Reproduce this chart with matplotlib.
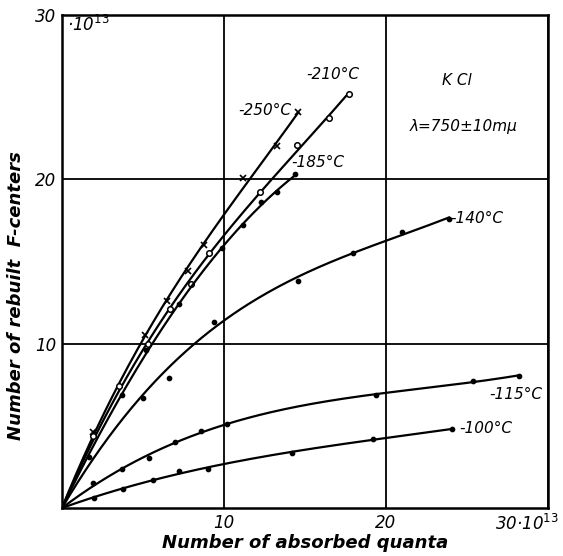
import numpy as np
import matplotlib.pyplot as plt

x_250 = [1.9, 5.1, 6.5, 7.8, 8.8, 11.2, 13.3, 14.6]
y_250 = [4.6, 10.5, 12.6, 14.4, 16.0, 20.1, 22.0, 24.1]

x_210 = [1.9, 3.5, 5.3, 6.7, 8.0, 9.1, 12.2, 14.5, 16.5, 17.7]
y_210 = [4.4, 7.4, 10.0, 12.1, 13.6, 15.5, 19.2, 22.1, 23.7, 25.2]

x_185 = [1.7, 3.7, 5.2, 7.2, 9.9, 11.2, 12.3, 13.3, 14.4]
y_185 = [3.1, 6.9, 9.6, 12.4, 15.8, 17.2, 18.6, 19.2, 20.3]

x_140 = [5.0, 6.6, 9.4, 14.6, 18.0, 21.0, 23.9]
y_140 = [6.7, 7.9, 11.3, 13.8, 15.5, 16.8, 17.6]
skip_140 = [1]  # the dot at 6.6 lies well off the drawn curve

x_115 = [1.9, 3.7, 5.4, 7.0, 8.6, 10.2, 19.4, 25.4, 28.2]
y_115 = [1.5, 2.4, 3.05, 4.0, 4.7, 5.1, 6.9, 7.7, 8.05]

x_100 = [2.0, 3.8, 5.6, 7.2, 9.0, 14.2, 19.2, 24.1]
y_100 = [0.6, 1.15, 1.7, 2.25, 2.4, 3.35, 4.2, 4.8]

series = [
    (x_250, y_250, 'x', 'none', []),
    (x_210, y_210, 'o', 'white', []),
    (x_185, y_185, 'o', 'black', []),
    (x_140, y_140, 'o', 'black', skip_140),
    (x_115, y_115, 'o', 'black', []),
    (x_100, y_100, 'o', 'black', []),
]

labels = ['-250°C', '-210°C', '-185°C', '-140°C', '-115°C', '-100°C']
label_pos = [(12.5, 24.2), (16.7, 26.4), (15.8, 21.0), (25.6, 17.6), (28.0, 6.9), (26.2, 4.85)]

fam = ['Liberation Sans Narrow', 'DejaVu Sans']

fig = plt.figure(figsize=(5.63, 5.56), dpi=100)
ax = fig.add_axes([0.110, 0.0863, 0.863, 0.887])


def smooth(xs, ys, skip):
    # cubic through the origin, least squares on the read points
    keep = [i for i in range(len(xs)) if i not in skip]
    x = np.array(xs)[keep]
    y = np.array(ys)[keep]
    A = np.vstack([x, x**2, x**3]).T
    c = np.linalg.lstsq(A, y, rcond=None)[0]
    xx = np.linspace(0, max(xs), 200)
    return xx, c[0]*xx + c[1]*xx**2 + c[2]*xx**3


for xs, ys, m, fc, skip in series:
    xx, yy = smooth(xs, ys, skip)
    ax.plot(xx, yy, color='black', lw=1.6)
    if m == 'x':
        ax.plot(xs, ys, 'x', color='black', ms=5, mew=1.2)
    else:
        ax.plot(xs, ys, m, mfc=fc, mec='black', ms=4 if fc == 'white' else 3, mew=1.1)

for lab, (lx, ly) in zip(labels, label_pos):
    ax.text(lx, ly, lab, ha='center', va='center', fontsize=11,
            style='italic', family=fam)

ax.text(24.4, 26.0, 'K Cl', ha='center', va='center', fontsize=11, style='italic', family=fam)
ax.text(24.8, 23.2, 'λ=750±10mμ', ha='center', va='center', fontsize=11, style='italic', family=fam)

ax.set_xlim(0, 30)
ax.set_ylim(0, 30)
ax.set_xticks([10, 20, 30])
ax.set_yticks([10, 20, 30])
ax.set_xticklabels(['10', '20', ''], fontsize=12, style='italic', family=fam)
ax.set_yticklabels(['10', '20', '30'], fontsize=12, style='italic', family=fam)
ax.tick_params(length=0, pad=4)
ax.text(30.7, -0.35, '30·10$^{13}$', ha='right', va='top', fontsize=12, style='italic', family=fam)
ax.text(0.3, 29.4, '·10$^{13}$', ha='left', va='center', fontsize=12, style='italic', family=fam)
ax.grid(True, color='black', lw=1.3)
for s in ax.spines.values():
    s.set_linewidth(1.8)

ax.set_xlabel('Number of absorbed quanta', fontsize=13, fontweight='bold', style='italic', labelpad=2)
ax.set_ylabel('Number of rebuilt  F-centers', fontsize=13, fontweight='bold', style='italic')
ax.yaxis.set_label_coords(-0.075, 0.43)

fig.savefig('out.png', dpi=100)
